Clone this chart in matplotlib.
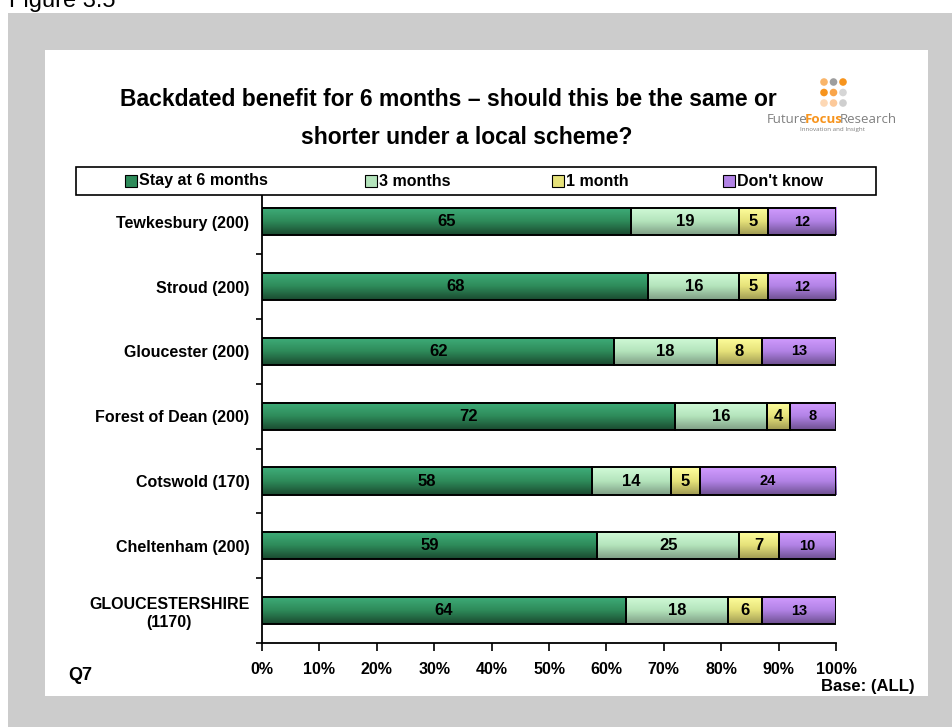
import matplotlib
matplotlib.use("Agg")
import matplotlib.pyplot as plt
import numpy as np
from matplotlib.colors import LinearSegmentedColormap
from matplotlib.patches import Rectangle, Circle

plt.rcParams['font.family'] = ['Liberation Sans', 'DejaVu Sans']

# data
areas = ["Tewkesbury (200)", "Stroud (200)", "Gloucester (200)", "Forest of Dean (200)",
         "Cotswold (170)", "Cheltenham (200)", "GLOUCESTERSHIRE\n(1170)"]
series = ["Stay at 6 months", "3 months", "1 month", "Don't know"]
stay6 = [65, 68, 62, 72, 58, 59, 64]
three = [19, 16, 18, 16, 14, 25, 18]
one = [5, 5, 8, 4, 5, 7, 6]
dontknow = [12, 12, 13, 8, 24, 10, 13]
xticks = [0, 10, 20, 30, 40, 50, 60, 70, 80, 90, 100]

# gradients top -> bottom
grads = [["#3fae7a", "#2e8b5a", "#1a4a30"],
         ["#d2fbd8", "#b4e4bc", "#7f9e85"],
         ["#ffff9e", "#e6e27a", "#9f9a52"],
         ["#d29cff", "#b283e6", "#6e5091"]]
mids = [g[1] for g in grads]
label_sizes = [12, 12, 12, 10.5]

W, H = 953, 727
fig = plt.figure(figsize=(W / 100, H / 100), dpi=100)


def fx(x):
    return x / W


def fy(y):
    return 1 - y / H


# background frame
fig.patches.append(Rectangle((fx(8), 0), 1, fy(13), transform=fig.transFigure,
                             facecolor="#cccccc", edgecolor="none", zorder=-3))
fig.patches.append(Rectangle((fx(45), fy(696)), fx(928 - 45), (696 - 50) / H,
                             transform=fig.transFigure, facecolor="white",
                             edgecolor="none", zorder=-2))
fig.text(fx(9), fy(7), "Figure 3.5", fontsize=17, va="baseline", ha="left")

# title
fig.text(fx(448), fy(99), "Backdated benefit for 6 months \u2013 should this be the same or",
         fontsize=16.5, fontweight="bold", ha="center", va="center")
fig.text(fx(467), fy(137), "shorter under a local scheme?",
         fontsize=16.5, fontweight="bold", ha="center", va="center")

# axes
ax = fig.add_axes([fx(262), fy(643), fx(836 - 262), (643 - 189.4) / H])
ax.set_facecolor("none")
ax.set_zorder(1)

vals = np.array([stay6, three, one, dontknow], dtype=float)
pct = vals / vals.sum(axis=0) * 100
ypos = np.arange(len(areas))
left = np.zeros(len(areas))
bar_h = 0.42
for k in range(len(series)):
    bars = ax.barh(ypos, pct[k], left=left, height=bar_h, color=mids[k],
                   edgecolor="black", linewidth=1.4, zorder=3)
    cmap = LinearSegmentedColormap.from_list("g%d" % k, grads[k])
    grad = np.linspace(0, 1, 64).reshape(-1, 1)
    for b, v in zip(bars, vals[k]):
        x0, y0, w, h = b.get_x(), b.get_y(), b.get_width(), b.get_height()
        ax.imshow(grad, extent=(x0, x0 + w, y0 + h, y0), cmap=cmap, aspect="auto",
                  origin="upper", zorder=2.5, interpolation="bilinear")
        b.set_facecolor("none")
        ax.text(x0 + w / 2, y0 + h / 2, "%d" % v, ha="center", va="center",
                fontsize=label_sizes[k], fontweight="bold", zorder=4)
    left += pct[k]

ax.set_xlim(0, 100)
ax.set_ylim(len(areas) - 0.5, -0.5)
ax.set_xticks(xticks)
ax.set_xticklabels(["%d%%" % t for t in xticks], fontsize=11.5, fontweight="bold")
ax.set_yticks(ypos)
ax.set_yticklabels(areas, fontsize=11.5, fontweight="bold", multialignment="center")
ax.set_yticks(np.arange(len(areas)) + 0.5, minor=True)
ax.tick_params(axis="y", which="major", length=0, pad=9)
ax.tick_params(axis="y", which="minor", length=4, width=1.2, direction="out")
ax.tick_params(axis="x", length=6, width=1.2, direction="out", pad=8)
for s in ["top", "right"]:
    ax.spines[s].set_visible(False)
for s in ["left", "bottom"]:
    ax.spines[s].set_linewidth(1.3)

# legend box
fig.patches.append(Rectangle((fx(76), fy(195)), fx(876 - 76), (195 - 167) / H,
                             transform=fig.transFigure, facecolor="white",
                             edgecolor="black", linewidth=1.2, zorder=5))
leg_x = [125, 365, 552, 723]
for k, name in enumerate(series):
    fig.patches.append(Rectangle((fx(leg_x[k]), fy(187)), fx(12), 12 / H,
                                 transform=fig.transFigure, facecolor=mids[k],
                                 edgecolor="black", linewidth=0.8, zorder=6))
    fig.text(fx(leg_x[k] + 14), fy(181), name, fontsize=11.5, fontweight="bold",
             ha="left", va="center", zorder=7)

# footer texts
fig.text(fx(68), fy(676), "Q7", fontsize=13, fontweight="bold", ha="left", va="center")
fig.text(fx(915), fy(686), "Base: (ALL)", fontsize=12, fontweight="bold",
         ha="right", va="center")

# logo
dot_cols = [["#f9b56a", "#9e9e9e", "#f7941d"],
            ["#f7941d", "#f9a54a", "#d6d6d6"],
            ["#fdd8b5", "#fcc99a", "#cfcfcf"]]
for r in range(3):
    for c in range(3):
        cx, cy = 824 + c * 9.5, 82 + r * 10.5
        fig.patches.append(Circle((cx / 100, (H - cy) / 100), 0.038,
                                  transform=fig.dpi_scale_trans,
                                  facecolor=dot_cols[r][c], edgecolor="none"))
t1 = fig.text(fx(767), fy(123), "Future", fontsize=9.5, color="#808080",
              family="Open Sans", ha="left", va="baseline")
t2 = fig.text(0, 0, "Focus", fontsize=9.5, color="#f7941d", family="Open Sans",
              fontweight="bold", ha="left", va="baseline")
t3 = fig.text(0, 0, "Research", fontsize=9.5, color="#808080", family="Open Sans",
              ha="left", va="baseline")
fig.canvas.draw()
r = fig.canvas.get_renderer()
bb1 = t1.get_window_extent(r)
t2.set_position(((bb1.x1 - 3) / fig.bbox.width, fy(123)))
bb2 = t2.get_window_extent(r)
t3.set_position(((bb2.x1 - 3) / fig.bbox.width, fy(123)))
fig.text(fx(832), fy(130), "Innovation and Insight", fontsize=4.5, color="#808080",
         family="Open Sans", ha="center", va="center")

fig.savefig("out.png", dpi=100)
